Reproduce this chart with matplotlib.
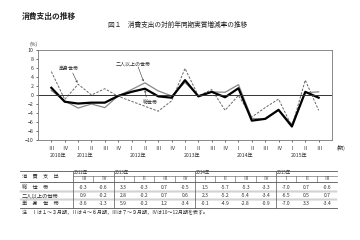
import matplotlib
matplotlib.use("Agg")
import matplotlib.pyplot as plt
from matplotlib.lines import Line2D

plt.rcParams['font.family'] = ['Noto Sans CJK JP', 'DejaVu Sans']

# quarterly data, 2010 III .. 2015 III
quarters = ["Ⅲ", "Ⅳ", "Ⅰ", "Ⅱ", "Ⅲ", "Ⅳ", "Ⅰ", "Ⅱ", "Ⅲ", "Ⅳ", "Ⅰ", "Ⅱ", "Ⅲ", "Ⅳ",
            "Ⅰ", "Ⅱ", "Ⅲ", "Ⅳ", "Ⅰ", "Ⅱ", "Ⅲ"]
years = ["2010年", "2011年", "2012年", "2013年", "2014年", "2015年"]
year_pos = [0.5, 2.5, 6.5, 10.5, 14.5, 18.5]
total = [1.6, -1.5, -1.9, -1.7, -1.7, -0.2, 0.7, 1.4, -0.3, -0.6, 3.3, -0.3, 0.7,
         -0.5, 1.5, -5.7, -5.3, -3.3, -7.0, 0.7, -0.6]
two_plus = [1.0, -1.3, -2.9, -2.0, -2.8, -0.2, 1.2, 2.7, 0.9, -0.2, 2.8, -0.2, 0.7,
            0.6, 2.3, -5.2, -5.4, -3.4, -6.5, 0.5, 0.7]
single = [5.2, -1.0, 2.4, 0.0, 1.4, -0.3, -1.4, -2.5, -3.6, -1.3, 5.9, -0.2, 1.2,
          -3.4, -0.1, -4.9, -2.8, -0.9, -7.0, 3.3, -3.4]

# table: last 13 quarters
tbl_years = ["2012年", "2013年", "2014年", "2015年"]
tbl_year_cols = [0, 2, 6, 10]
tbl_q = quarters[8:]
row_labels = ["総　世　帯", "二人以上の世帯", "単　身　世　帯"]
rows = [total[8:], two_plus[8:], single[8:]]

W, H = 360, 240
fig = plt.figure(figsize=(3.6, 2.4), dpi=100)
fig.patch.set_facecolor("white")

# chart axes in pixel geometry
L, R, T, B = 38, 332, 50, 140
ax = fig.add_axes([L / W, 1 - B / H, (R - L) / W, (B - T) / H])
x = list(range(len(quarters)))
ax.plot(x, single, color="#666666", lw=0.7, ls=(0, (2.5, 1.5)))
ax.plot(x, two_plus, color="#888888", lw=0.9)
ax.plot(x, total, color="black", lw=1.6)
ax.axhline(0, color="#333333", lw=0.7)
ax.set_xlim(-1, 21)
ax.set_ylim(-10, 10)
ax.set_yticks(range(-10, 11, 2))
ax.tick_params(axis="y", labelsize=3.8, length=1.5, width=0.4, pad=1.5, labelcolor="#333333")
ax.set_xticks(x)
ax.set_xticklabels(quarters, fontsize=3.9, color="#333333")
ax.tick_params(axis="x", length=1.5, width=0.4, pad=2.5, direction="out")
for s in ax.spines.values():
    s.set_color("#777777")
    s.set_linewidth(0.6)
ax.text(21.3, -11.2, "(期)", fontsize=3.9, color="#333333", ha="left", va="top",
        clip_on=False)
ax.text(-1.0, 10.6, "(%)", fontsize=3.6, color="#333333", ha="right", va="bottom")
for yl, yp in zip(years, year_pos):
    ax.text(yp, -12.8, yl, fontsize=3.7, color="#333333", ha="center", va="top")

arrow = dict(arrowstyle="->", color="#333333", lw=0.4, shrinkA=0, shrinkB=0,
             mutation_scale=3)
ax.annotate("", xy=(1.95, 2.7), xytext=(1.6, 4.9), arrowprops=arrow)
ax.text(1.3, 5.8, "単身世帯", fontsize=3.6, color="#333333", ha="center", va="center")
ax.annotate("", xy=(6.9, 3.0), xytext=(6.5, 6.2), arrowprops=arrow)
ax.text(6.1, 6.9, "二人以上の世帯", fontsize=3.6, color="#333333", ha="center", va="center")
ax.annotate("", xy=(7.0, 1.1), xytext=(7.1, -0.5), arrowprops=arrow)
ax.text(7.4, -1.6, "総世帯", fontsize=3.6, color="#333333", ha="center", va="center")

# overlay in pixel coordinates for titles and the table
ov = fig.add_axes([0, 0, 1, 1])
ov.set_xlim(0, W)
ov.set_ylim(H, 0)
ov.axis("off")
ov.patch.set_alpha(0)

ov.text(22, 16, "消費支出の推移", fontsize=5.6, fontweight="bold", color="#222222",
        ha="left", va="center")
ov.text(108, 25, "図１　消費支出の対前年同期実質増減率の推移", fontsize=4.8,
        color="#222222", ha="left", va="center")

# table geometry
tx0, tx1 = 20, 337
lab_w = 53
cw = (tx1 - tx0 - lab_w) / 13
y_top, y_yr, y_hdr = 170.5, 175.5, 181.5
row_c = [187.5, 195.8, 203.5]
row_sep = [191.8, 199.6]
y_bot = 207.5


def hline(y, xa, xb, lw=0.5, c="#555555"):
    ov.add_line(Line2D([xa, xb], [y, y], color=c, lw=lw))


def vline(x_, ya, yb, lw=0.5, c="#555555"):
    ov.add_line(Line2D([x_, x_], [ya, yb], color=c, lw=lw))


hline(y_top, tx0, tx1, lw=0.6)
hline(y_yr, tx0 + lab_w, tx1, lw=0.4)
hline(y_hdr, tx0, tx1, lw=0.6)
for ys in row_sep:
    hline(ys - 0.5, tx0, tx1, lw=0.3, c="#888888")
    hline(ys + 0.5, tx0, tx1, lw=0.3, c="#888888")
hline(y_bot, tx0, tx1, lw=0.6)

cx0 = tx0 + lab_w
vline(cx0, y_top, y_bot, lw=0.5)
for i in range(1, 13):
    xv = cx0 + i * cw
    if i in tbl_year_cols:
        vline(xv, y_top, y_bot, lw=0.5)
    else:
        vline(xv, y_yr, y_hdr, lw=0.4)

ov.text(tx0 + 2, (y_top + y_hdr) / 2, "消　費　支　出", fontsize=3.8,
        color="#333333", ha="left", va="center")
for yl, c in zip(tbl_years, tbl_year_cols):
    ov.text(cx0 + c * cw + 1, (y_top + y_yr) / 2, yl, fontsize=3.2,
            color="#333333", ha="left", va="center")
for i, q in enumerate(tbl_q):
    ov.text(cx0 + (i + 0.5) * cw, (y_yr + y_hdr) / 2, q, fontsize=3.4,
            color="#333333", ha="center", va="center")
for lab, vals, yc in zip(row_labels, rows, row_c):
    ov.text(tx0 + 2, yc, lab, fontsize=3.8, color="#333333", ha="left", va="center")
    for i, v in enumerate(vals):
        ov.text(cx0 + (i + 0.5) * cw, yc, f"{v:.1f}", fontsize=3.6,
                color="#333333", ha="center", va="center")

ov.text(tx0 + 2, 212.5,
        "注　Ⅰは１～３月期，Ⅱは４～６月期，Ⅲは７～９月期，Ⅳは10～12月期を表す。",
        fontsize=3.6, color="#333333", ha="left", va="center")

fig.savefig("out.png", dpi=100, facecolor="white")
